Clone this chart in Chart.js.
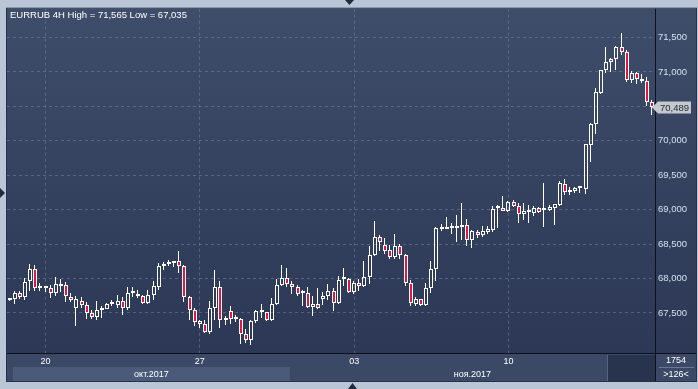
<!DOCTYPE html>
<html>
<head>
<meta charset="utf-8">
<script src="https://cdn.jsdelivr.net/npm/chart.js@4.4.0/dist/chart.umd.min.js"></script>
<style>
  html, body { margin: 0; padding: 0; background: #bac6d6; }
  #wrap { width: 698px; height: 389px; position: relative; }
</style>
</head>
<body>
<div id="wrap"><canvas id="chart"></canvas></div>
<script>
// EURRUB 4H, 126 candles on screen
const openP = [
  67.690, 67.706, 67.792, 67.730, 67.960, 68.138, 67.862, 67.865, 67.865, 67.792,
  67.922, 67.912, 67.735, 67.576, 67.677, 67.615, 67.505, 67.442, 67.550, 67.557,
  67.630, 67.615, 67.668, 67.576, 67.790, 67.783, 67.749, 67.644, 67.764, 67.874,
  68.181, 68.205, 68.220, 68.258, 68.186, 67.735, 67.548, 67.380, 67.346, 67.231,
  67.576, 67.879, 67.404, 67.524, 67.420, 67.418, 67.202, 67.101, 67.380, 67.538,
  67.509, 67.394, 67.624, 67.908, 68.008, 67.922, 67.884, 67.790, 67.792, 67.586,
  67.634, 67.706, 67.749, 67.826, 67.648, 67.988, 67.990, 67.802, 67.941, 67.893,
  68.023, 68.340, 68.599, 68.488, 68.412, 68.306, 68.474, 68.345, 67.929, 67.637,
  67.698, 67.620, 67.866, 68.140, 68.723, 68.756, 68.737, 68.740, 68.742, 68.776,
  68.565, 68.676, 68.628, 68.676, 68.699, 69.024, 69.031, 68.983, 69.117, 69.060,
  68.944, 68.973, 68.947, 69.029, 69.029, 68.990, 69.029, 69.067, 69.380, 69.250,
  69.269, 69.312, 69.303, 69.942, 70.245, 70.702, 71.024, 71.144, 71.182, 71.360,
  71.288, 70.880, 70.985, 70.899, 70.865, 70.558
];
const highP = [
  67.710, 67.826, 67.816, 68.004, 68.205, 68.191, 67.932, 67.898, 67.908, 68.028,
  67.990, 67.946, 67.792, 67.754, 67.730, 67.658, 67.538, 67.668, 67.605, 67.640,
  67.682, 67.764, 67.730, 67.884, 67.874, 67.830, 67.768, 67.836, 67.970, 68.229,
  68.244, 68.268, 68.258, 68.402, 68.190, 67.754, 67.576, 67.404, 67.394, 67.672,
  68.128, 67.970, 67.452, 67.605, 67.466, 67.432, 67.274, 67.404, 67.548, 67.634,
  67.518, 67.720, 67.994, 68.200, 68.152, 67.970, 67.903, 67.836, 67.884, 67.740,
  67.864, 67.802, 67.922, 67.864, 68.042, 68.152, 68.004, 67.970, 67.990, 68.258,
  68.474, 68.834, 68.632, 68.589, 68.484, 68.642, 68.498, 68.352, 67.986, 67.730,
  67.700, 67.942, 68.259, 68.748, 68.795, 68.892, 68.810, 68.920, 69.093, 68.858,
  68.704, 68.704, 68.757, 68.757, 69.050, 69.074, 69.194, 69.132, 69.141, 69.103,
  69.093, 69.062, 69.053, 69.043, 69.385, 69.068, 69.077, 69.414, 69.443, 69.327,
  69.332, 69.332, 69.952, 70.255, 70.769, 71.034, 71.360, 71.206, 71.380, 71.565,
  71.322, 71.010, 70.999, 70.966, 70.928, 70.591
];
const lowP = [
  67.680, 67.634, 67.706, 67.682, 67.826, 67.816, 67.816, 67.802, 67.720, 67.754,
  67.802, 67.658, 67.658, 67.312, 67.576, 67.418, 67.418, 67.404, 67.432, 67.552,
  67.596, 67.576, 67.466, 67.548, 67.730, 67.720, 67.634, 67.629, 67.692, 67.836,
  68.124, 68.181, 68.167, 68.076, 67.658, 67.404, 67.308, 67.288, 67.212, 67.188,
  67.394, 67.284, 67.322, 67.337, 67.370, 67.048, 67.058, 67.035, 67.356, 67.432,
  67.380, 67.380, 67.610, 67.893, 67.884, 67.778, 67.744, 67.596, 67.576, 67.456,
  67.562, 67.615, 67.692, 67.528, 67.634, 67.893, 67.792, 67.778, 67.826, 67.884,
  67.917, 68.325, 68.402, 68.354, 68.282, 68.277, 68.277, 67.886, 67.597, 67.605,
  67.605, 67.605, 67.788, 67.971, 68.690, 68.718, 68.642, 68.536, 68.555, 68.469,
  68.450, 68.594, 68.608, 68.652, 68.680, 68.738, 68.978, 68.968, 69.040, 68.810,
  68.853, 68.803, 68.909, 68.957, 68.755, 68.981, 68.779, 69.053, 69.212, 69.216,
  69.245, 69.245, 69.221, 69.692, 70.096, 70.687, 70.985, 70.995, 71.024, 71.240,
  70.856, 70.841, 70.822, 70.846, 70.505, 70.375
];
const closeP = [
  67.700, 67.797, 67.730, 67.956, 68.138, 67.860, 67.858, 67.860, 67.797, 67.922,
  67.888, 67.750, 67.692, 67.696, 67.615, 67.505, 67.442, 67.548, 67.558, 67.634,
  67.638, 67.668, 67.576, 67.792, 67.797, 67.744, 67.644, 67.764, 67.898, 68.186,
  68.215, 68.225, 68.248, 68.181, 67.730, 67.548, 67.370, 67.346, 67.231, 67.576,
  67.879, 67.404, 67.432, 67.418, 67.428, 67.202, 67.101, 67.380, 67.533, 67.509,
  67.394, 67.634, 67.908, 68.008, 67.917, 67.879, 67.778, 67.792, 67.586, 67.634,
  67.576, 67.749, 67.826, 67.648, 67.984, 67.992, 67.802, 67.941, 67.893, 68.023,
  68.340, 68.599, 68.536, 68.402, 68.306, 68.469, 68.340, 67.929, 67.641, 67.698,
  67.620, 67.866, 68.140, 68.729, 68.756, 68.723, 68.742, 68.737, 68.776, 68.565,
  68.690, 68.628, 68.690, 68.719, 69.016, 69.028, 68.988, 69.117, 69.060, 68.944,
  68.978, 68.980, 69.029, 68.971, 68.995, 69.039, 69.077, 69.385, 69.260, 69.283,
  69.313, 69.317, 69.952, 70.245, 70.711, 71.024, 71.144, 71.192, 71.360, 71.283,
  70.880, 70.985, 70.894, 70.865, 70.558, 70.489
];

const yTicks = [67.5, 68, 68.5, 69, 69.5, 70, 70.5, 71, 71.5];
const dayTickIndex = [7, 37, 67, 97];
const dayTickLabels = ['20', '27', '03', '10'];
const monthStartIndex = [0, 55];
const monthLabels = ['окт.2017', 'ноя.2017'];
const symbolName = 'EURRUB 4H';
const barsTotalLabel = '1754';
const barsShownLabel = '>126<';

const FONT = '"Liberation Sans", Arial, sans-serif';
const gridColor = 'rgba(118, 136, 168, 0.5)';
const redBody = '#e6153f';

const fmt = v => v.toFixed(3).replace('.', ',');

const labels = closeP.map((_, i) => i);

// snap the candle elements to whole pixels so the thin lines stay crisp
const snapPlugin = {
  id: 'snap',
  beforeDatasetsDraw(chart) {
    chart.data.datasets.forEach((ds, di) => {
      const meta = chart.getDatasetMeta(di);
      meta.data.forEach(el => {
        const cx = Math.round(el.x);
        el.x = di === 0 ? cx : cx - 0.5;
        el.y = Math.round(el.y);
        el.base = Math.round(el.base);
      });
    });
  }
};

// backgrounds + frame drawn around the chart
const framePlugin = {
  id: 'frame',
  beforeDraw(chart) {
    const { ctx, chartArea: a, scales } = chart;
    const W = chart.width;
    ctx.save();
    ctx.fillStyle = '#bac6d6';
    ctx.fillRect(0, 0, W, chart.height);

    // plot + price panel
    const g = ctx.createLinearGradient(0, a.top, 0, a.bottom);
    g.addColorStop(0, '#3e4d6a');
    g.addColorStop(1, '#2c3855');
    ctx.fillStyle = g;
    ctx.fillRect(a.left, a.top, W - 2 - a.left, a.bottom - a.top);

    // time panel
    ctx.fillStyle = '#3b4966';
    ctx.fillRect(a.left, a.bottom, W - 2 - a.left, 28);

    // month band for october
    const x = scales.x;
    const step = x.getPixelForValue(1) - x.getPixelForValue(0);
    const nov = x.getPixelForValue(monthStartIndex[1]) - step / 2;
    ctx.fillStyle = '#4b5a78';
    ctx.fillRect(a.left + 6, a.bottom + 14, nov - a.left - 6, 14);

    // dark box at right end of time panel
    ctx.fillStyle = '#28334d';
    ctx.fillRect(a.right - 47, a.bottom + 2, 47, 26);
    ctx.fillStyle = '#56647f';
    ctx.fillRect(a.right - 48, a.bottom + 2, 1, 26);
    ctx.restore();
  },
  afterDraw(chart) {
    const { ctx, chartArea: a, scales } = chart;
    const W = chart.width;
    const x = scales.x, y = scales.y;
    ctx.save();

    // separators
    ctx.fillStyle = '#0c111c';
    ctx.fillRect(a.right, a.top, 1, 381 - a.top);
    ctx.fillRect(a.left, a.bottom, W - 2 - a.left, 1);
    ctx.strokeStyle = '#26314a';
    ctx.strokeRect(a.left - 0.5, a.top - 0.5, W - 2 - a.left + 1, 381 - a.top + 1);

    // title
    const hi = Math.max(...highP), lo = Math.min(...lowP);
    ctx.fillStyle = '#ffffff';
    ctx.font = '9.5px ' + FONT;
    ctx.textBaseline = 'alphabetic';
    ctx.textAlign = 'left';
    ctx.fillText(symbolName + ' High = ' + fmt(hi) + ' Low = ' + fmt(lo), 10, 18);

    // last price tag
    const last = closeP[closeP.length - 1];
    const py = Math.round(y.getPixelForValue(last)) + 0.5;
    ctx.fillStyle = '#c5c9ce';
    ctx.beginPath();
    ctx.moveTo(a.right - 3, py);
    ctx.lineTo(a.right + 3, py - 6);
    ctx.lineTo(a.right + 36, py - 6);
    ctx.lineTo(a.right + 36, py + 6);
    ctx.lineTo(a.right + 3, py + 6);
    ctx.closePath();
    ctx.fill();
    ctx.fillStyle = '#1d2536';
    ctx.textBaseline = 'middle';
    ctx.font = '9.5px ' + FONT;
    ctx.fillText(fmt(last), a.right + 5, py + 0.5);

    // month labels
    const step = x.getPixelForValue(1) - x.getPixelForValue(0);
    const nov = x.getPixelForValue(monthStartIndex[1]) - step / 2;
    ctx.fillStyle = '#ffffff';
    ctx.textAlign = 'center';
    ctx.font = '9px ' + FONT;
    ctx.fillText(monthLabels[0], (a.left + 6 + nov) / 2, a.bottom + 21.5);
    ctx.fillText(monthLabels[1], (nov + a.right) / 2, a.bottom + 21.5);

    // bars counter
    ctx.fillText(barsTotalLabel, a.right + 21, a.bottom + 8);
    ctx.fillText(barsShownLabel, a.right + 21, a.bottom + 22);
    ctx.fillStyle = '#6b7893';
    ctx.fillRect(a.right + 4, a.bottom + 14, 35, 1);

    // scroll arrows in the frame
    ctx.fillStyle = '#1e2a40';
    ctx.beginPath();
    ctx.moveTo(345, 0); ctx.lineTo(354, 0); ctx.lineTo(349.5, 5); ctx.closePath(); ctx.fill();
    ctx.beginPath();
    ctx.moveTo(348, 389); ctx.lineTo(357, 389); ctx.lineTo(352.5, 383); ctx.closePath(); ctx.fill();
    ctx.beginPath();
    ctx.moveTo(0, 188); ctx.lineTo(0, 198); ctx.lineTo(5, 193); ctx.closePath(); ctx.fill();
    ctx.restore();
  }
};

new Chart(document.getElementById('chart'), {
  type: 'bar',
  data: {
    labels: labels,
    datasets: [
      {
        label: 'body',
        data: openP.map((o, i) => [o, closeP[i]]),
        backgroundColor: openP.map((o, i) => closeP[i] < o ? redBody : 'rgba(0,0,0,0)'),
        borderColor: '#ffffff',
        borderWidth: 1,
        borderSkipped: false,
        barThickness: 4,
        minBarLength: 2,
        inflateAmount: 0,
        grouped: false,
        order: 0
      },
      {
        label: 'upper',
        data: highP.map((h, i) => [Math.max(openP[i], closeP[i]), h]),
        backgroundColor: '#ffffff',
        borderWidth: 0,
        barThickness: 1,
        inflateAmount: 0,
        grouped: false,
        order: 1
      },
      {
        label: 'lower',
        data: lowP.map((l, i) => [l, Math.min(openP[i], closeP[i])]),
        backgroundColor: '#ffffff',
        borderWidth: 0,
        barThickness: 1,
        inflateAmount: 0,
        grouped: false,
        order: 1
      }
    ]
  },
  options: {
    responsive: true,
    maintainAspectRatio: false,
    animation: false,
    events: [],
    layout: { padding: { left: 7, top: 7, right: 2, bottom: 8 } },
    plugins: {
      legend: { display: false },
      tooltip: { enabled: false }
    },
    scales: {
      x: {
        type: 'category',
        offset: true,
        grid: {
          offset: false,
          drawTicks: false,
          color: ctx => dayTickIndex.includes(ctx.index) ? gridColor : 'rgba(0,0,0,0)'
        },
        border: { display: false, dash: [3, 3] },
        ticks: {
          autoSkip: false,
          maxRotation: 0,
          padding: 3,
          color: '#ffffff',
          font: { family: FONT, size: 9 },
          callback: (v, i) => {
            const k = dayTickIndex.indexOf(i);
            return k >= 0 ? dayTickLabels[k] : '';
          }
        },
        afterFit: s => { s.height = 28; }
      },
      y: {
        type: 'linear',
        position: 'right',
        min: 66.919,
        max: 71.919,
        afterBuildTicks: s => { s.ticks = yTicks.map(v => ({ value: v })); },
        grid: { drawTicks: false, color: gridColor },
        border: { display: false, dash: [3, 3] },
        ticks: {
          padding: 3,
          color: '#d3e1f3',
          font: { family: FONT, size: 9.5 },
          callback: v => fmt(v)
        },
        afterFit: s => { s.width = 41; }
      }
    }
  },
  plugins: [snapPlugin, framePlugin]
});
</script>
</body>
</html>
